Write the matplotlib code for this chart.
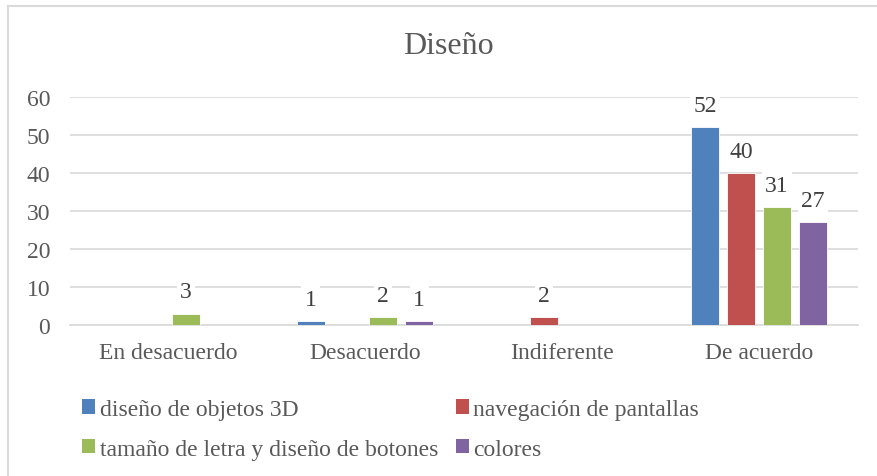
import matplotlib.pyplot as plt
import numpy as np
from matplotlib.patches import Patch
from matplotlib.lines import Line2D

plt.rcParams['font.family'] = ['Liberation Serif', 'DejaVu Serif']

categorias = ["En desacuerdo", "Desacuerdo", "Indiferente", "De acuerdo"]
series = ["diseño de objetos 3D", "navegación de pantallas",
          "tamaño de letra y diseño de botones", "colores"]
objetos_3d = [0, 1, 0, 52]
navegacion = [0, 0, 2, 40]
tamano_letra = [3, 2, 0, 31]
colores_val = [0, 1, 0, 27]
valores = [objetos_3d, navegacion, tamano_letra, colores_val]
colores = ["#4F81BD", "#C0504D", "#9BBB59", "#8064A2"]

W, H = 877, 477
fig = plt.figure(figsize=(W / 100, H / 100), dpi=100)
ax = fig.add_axes([69.5 / W, 1 - 326 / H, 788 / W, 228 / H])

x = np.arange(len(categorias))
ancho = 0.142
paso = 0.183
for i, (vals, col) in enumerate(zip(valores, colores)):
    pos = x + (i - 1.5) * paso
    barras = ax.bar(pos, vals, ancho, color=col, edgecolor="white",
                    linewidth=0.6, zorder=3)
    for b, v in zip(barras, vals):
        if v == 0:
            continue
        ax.annotate(str(v), (b.get_x() + b.get_width() / 2, v),
                    xytext=(0, 8), textcoords="offset points",
                    ha="center", va="bottom", fontsize=17, color="#404040",
                    bbox=dict(boxstyle="square,pad=0.15", fc="white", ec="none"),
                    zorder=4)

ax.set_xlim(-0.5, 3.5)
ax.set_ylim(0, 60)
ax.set_yticks(range(0, 61, 10))
ax.set_xticks(x)
ax.set_xticklabels(categorias)
ax.grid(axis="y", color="#D9D9D9", linewidth=1.2, zorder=0)
for s in ["top", "right", "left"]:
    ax.spines[s].set_visible(False)
ax.spines["bottom"].set_color("#D9D9D9")
ax.spines["bottom"].set_linewidth(1.2)
ax.tick_params(axis="both", length=0, labelsize=17, labelcolor="#595959")
ax.tick_params(axis="y", pad=14)
ax.tick_params(axis="x", pad=12)

fig.text(448 / W, 1 - 47 / H, "Diseño", ha="center", va="center",
         fontsize=23, color="#595959")

# leyenda en dos columnas, ordenada por filas
manejadores = [Patch(facecolor=c, edgecolor="none") for c in colores]
orden = [0, 2, 1, 3]
leg = fig.legend([manejadores[i] for i in orden], [series[i] for i in orden],
                 ncol=2, loc="upper left", bbox_to_anchor=(70 / W, 1 - 388 / H),
                 frameon=False, fontsize=17, labelcolor="#595959",
                 handlelength=0.55, handleheight=0.55, handletextpad=0.2,
                 columnspacing=0.75, labelspacing=0.8, borderpad=0)

# borde del área del gráfico
fig.add_artist(Line2D([8 / W, 8 / W], [0, 1 - 7 / H], color="#D9D9D9",
                      linewidth=1.5, transform=fig.transFigure))
fig.add_artist(Line2D([8 / W, 1], [1 - 7 / H, 1 - 7 / H], color="#D9D9D9",
                      linewidth=1.5, transform=fig.transFigure))

fig.savefig("out.png", dpi=100)
